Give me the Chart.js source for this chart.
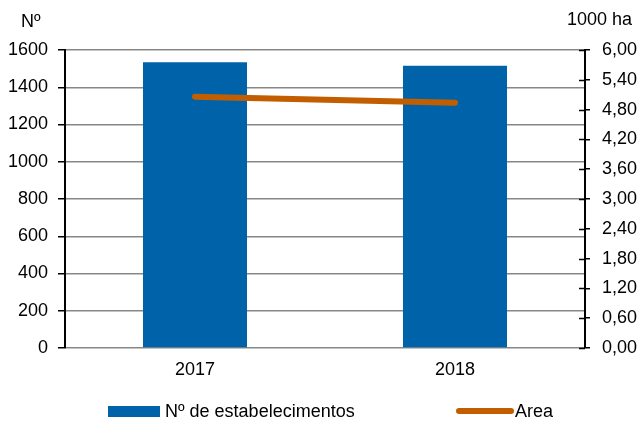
<!DOCTYPE HTML>
<html>
<head>
  <meta charset='utf-8'>
  <title>Estabelecimentos e area</title>
  <script src='https://cdn.jsdelivr.net/npm/chart.js'></script>
  <style>
    body {
      margin: 0;
      padding: 0;
      background-color: #fff;
    }
    #wrap {
      width: 641px;
      height: 421px;
    }
  </style>
</head>
<body>
  <div id='wrap'>
    <canvas id='grafico' width='641' height='421'></canvas>
  </div>
  <script>
    // dados
    var anos = ['2017', '2018'];
    var estabelecimentos = [1534, 1516];   // Nº
    var area = [5.06, 4.94];               // 1000 ha
    var nomeEstab = 'Nº de estabelecimentos';
    var nomeArea = 'Area';
    var tituloEsq = 'Nº';
    var tituloDir = '1000 ha';

    var fonte = "'Liberation Sans', Arial, sans-serif";
    var azul = '#0063AA';
    var laranja = '#C25E00';

    // titulos dos eixos, legenda e marcas internas do eixo direito
    var extras = {
      id: 'extras',
      afterDraw: function(chart) {
        var c = chart.ctx;
        var ca = chart.chartArea;
        c.save();

        // marcas do eixo direito para dentro
        var y1 = chart.scales.y1;
        c.strokeStyle = '#000';
        c.lineWidth = 1.5;
        y1.ticks.forEach(function(t) {
          var py = Math.round(y1.getPixelForValue(t.value)) + 0.5;
          c.beginPath();
          c.moveTo(ca.right - 6, py);
          c.lineTo(ca.right, py);
          c.stroke();
        });

        c.fillStyle = '#000';
        c.font = '18px ' + fonte;
        c.textBaseline = 'middle';
        c.textAlign = 'left';
        c.fillText(tituloEsq, 21, 22);
        c.fillText(tituloDir, 567, 20);

        // legenda
        var barras = chart.data.datasets.find(function(d) { return d.type === 'bar'; });
        var linha = chart.data.datasets.find(function(d) { return d.type === 'line'; });
        c.fillStyle = barras.backgroundColor;
        c.fillRect(108, 406, 52, 11);
        c.fillStyle = '#000';
        c.fillText(barras.label, 165, 412);

        c.strokeStyle = linha.borderColor;
        c.lineWidth = 6;
        c.lineCap = 'round';
        c.beginPath();
        c.moveTo(459, 411);
        c.lineTo(511, 411);
        c.stroke();
        c.fillText(linha.label, 515, 412);

        c.restore();
      }
    };

    var ctx = document.getElementById('grafico').getContext('2d');
    var grafico = new Chart(ctx, {
      type: 'bar',
      data: {
        labels: anos,
        datasets: [
          {
            type: 'line',
            label: nomeArea,
            data: area,
            yAxisID: 'y1',
            borderColor: laranja,
            backgroundColor: laranja,
            borderWidth: 6,
            borderCapStyle: 'round',
            pointRadius: 0,
            fill: false,
            order: 0
          },
          {
            type: 'bar',
            label: nomeEstab,
            data: estabelecimentos,
            yAxisID: 'y',
            backgroundColor: azul,
            borderWidth: 0,
            barPercentage: 0.4,
            categoryPercentage: 1.0,
            order: 1
          }
        ]
      },
      options: {
        responsive: false,
        animation: false,
        layout: { padding: { top: 50, left: 0, right: 0, bottom: 0 } },
        plugins: {
          legend: { display: false },
          tooltip: { enabled: false }
        },
        scales: {
          x: {
            grid: { display: false, drawTicks: false },
            border: { display: false },
            ticks: {
              color: '#000',
              padding: 11,
              font: { family: fonte, size: 18 }
            },
            afterFit: function(s) { s.height = 73; }
          },
          y: {
            position: 'left',
            min: 0,
            max: 1600,
            ticks: {
              stepSize: 200,
              color: '#000',
              padding: 10,
              font: { family: fonte, size: 18 },
              callback: function(v) { return String(v); }
            },
            grid: {
              color: '#878787',
              lineWidth: 1.5,
              tickColor: '#000',
              tickLength: 7
            },
            border: { color: '#000', width: 2 },
            afterFit: function(s) { s.width = 65; }
          },
          y1: {
            position: 'right',
            min: 0,
            max: 6,
            ticks: {
              stepSize: 0.6,
              color: '#000',
              padding: 12,
              font: { family: fonte, size: 18 },
              callback: function(v) { return v.toFixed(2).replace('.', ','); }
            },
            grid: {
              drawOnChartArea: false,
              color: '#000',
              lineWidth: 1.5,
              tickLength: 5
            },
            border: { color: '#000', width: 2 },
            afterFit: function(s) { s.width = 56; }
          }
        }
      },
      plugins: [extras]
    });
  </script>
</body>
</html>
